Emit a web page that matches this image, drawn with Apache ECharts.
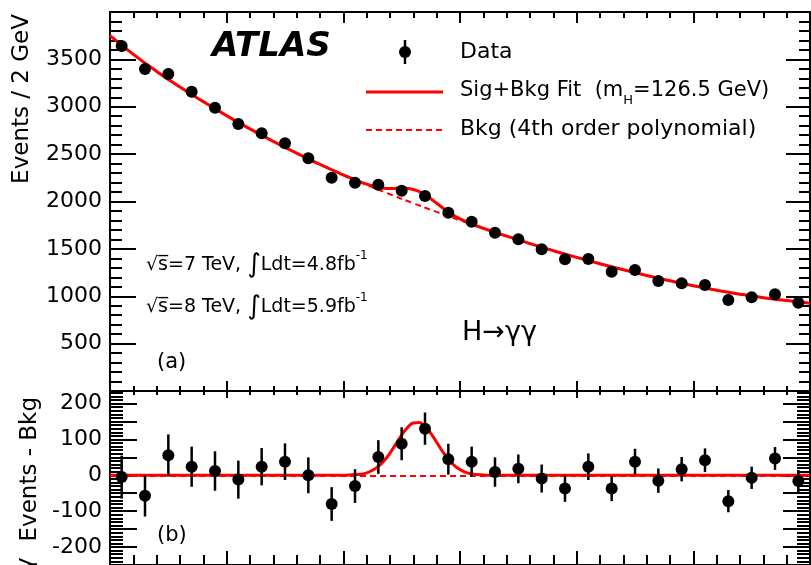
<!DOCTYPE html>
<html>
<head>
<meta charset="utf-8">
<script src="https://cdn.jsdelivr.net/npm/echarts@6.0.0/dist/echarts.min.js"></script>
<style>
html,body{margin:0;padding:0;background:#ffffff;}
#chart{width:811px;height:565px;}
</style>
</head>
<body>
<div id="chart"></div>
<script>
// ---- data ----
const massCenters = [101,103,105,107,109,111,113,115,117,119,121,123,125,127,129,131,133,135,137,139,141,143,145,147,149,151,153,155,157,159];
const eventsData = [3641,3398,3346,3159,2990,2818,2720,2614,2456,2251,2199,2178,2114,2058,1882,1787,1671,1601,1495,1390,1393,1259,1277,1161,1136,1119,960,989,1020,932];
const eventsErr = [60,58,58,56,55,53,52,51,50,47,47,47,46,45,43,42,41,40,39,37,37,35,36,34,34,33,31,31,32,31];
const residuals = [-5,-57,56,24,12,-12,24,38,0,-80,-30,51,88,130,45,38,9,18,-9,-37,24,-37,38,-15,17,42,-72,-7,47,-16];
const fitMass = [100,102,104,106,108,110,112,114,116,118,
  119,119.5,120,120.5,121,121.5,122,122.5,123,123.5,124,124.5,125,125.5,126,126.5,127,127.5,128,128.5,129,129.5,130,130.5,131,131.5,132,132.5,133,
  134,136,138,140,142,144,146,148,150,152,154,156,158,160];
const bkgFit = [3750,3553,3373,3208,3054,2906,2766,2635,2510,2392,
  2335,2308,2280,2253,2227,2201,2176,2150,2125,2100,2076,2052,2028,2005,1981,1958,1935,1912,1890,1867,1845,1823,1801,1780,1758,1737,1716,1696,1675,
  1635,1556,1481,1410,1343,1279,1219,1163,1111,1064,1022,985,954,927];
const sigFit = [0,0,0,0,0,0,0,0,0,0,
  0,0,0,1,2,3,7,14,25,41,62,87,112,133,146,147,137,117,92,67,45,28,16,8,4,2,1,0,0,
  0,0,0,0,0,0,0,0,0,0,0,0,0,0];
const topYLabels = [500,1000,1500,2000,2500,3000,3500];
const bottomYLabels = [-200,-100,0,100,200];

// ---- styling ----
const FONT = '"DejaVu Sans", "Liberation Sans", sans-serif';
const RED = '#ff0000';
const BLACK = '#000000';

const chart = echarts.init(document.getElementById('chart'), null, {renderer: 'canvas'});

function xAxisDef(gridIndex, position, major, minor) {
  return {
    type: 'value', gridIndex: gridIndex, position: position,
    min: 100, max: 160, interval: 10,
    axisLine: {show: true, onZero: false, lineStyle: {color: BLACK, width: 2}},
    axisTick: {show: true, inside: true, length: major, lineStyle: {color: BLACK, width: 2}},
    minorTick: {show: true, splitNumber: 5, length: minor, lineStyle: {color: BLACK, width: 2}},
    axisLabel: {show: false},
    splitLine: {show: false}, minorSplitLine: {show: false}
  };
}
function yAxisDef(gridIndex, position, min, max, interval, major, minor, labels) {
  return {
    type: 'value', gridIndex: gridIndex, position: position,
    min: min, max: max, interval: interval,
    axisLine: {show: true, onZero: false, lineStyle: {color: BLACK, width: 2}},
    axisTick: {show: true, inside: true, length: major, lineStyle: {color: BLACK, width: 2}},
    minorTick: {show: true, splitNumber: 5, length: minor, lineStyle: {color: BLACK, width: 2}},
    splitLine: {show: false}, minorSplitLine: {show: false},
    axisLabel: labels ? {
      show: true, margin: 8, color: BLACK, fontFamily: FONT, fontSize: 22,
      formatter: function (v) { return labels.indexOf(Math.round(v)) >= 0 ? String(Math.round(v)) : ''; }
    } : {show: false}
  };
}
function errorBars(xi, yi, values) {
  return {
    type: 'custom', xAxisIndex: xi, yAxisIndex: yi, z: 5, silent: true, clip: true,
    data: massCenters.map(function (m, i) { return [m, values[i] - eventsErr[i], values[i] + eventsErr[i]]; }),
    encode: {x: 0, y: [1, 2]},
    renderItem: function (params, api) {
      const a = api.coord([api.value(0), api.value(1)]);
      const b = api.coord([api.value(0), api.value(2)]);
      return {type: 'line', shape: {x1: a[0], y1: a[1], x2: b[0], y2: b[1]}, style: {stroke: BLACK, lineWidth: 2.5}};
    }
  };
}
function txt(x, y, text, size, extra) {
  return {
    type: 'text', x: x, y: y, silent: true, z: 100,
    style: Object.assign({
      text: text, fill: BLACK, fontFamily: FONT, fontSize: size,
      align: 'left', textAlign: 'left', verticalAlign: 'middle', textVerticalAlign: 'middle'
    }, extra || {})
  };
}
const annotRich = {
  t: {fontFamily: FONT, fontSize: 19, lineHeight: 22, fill: BLACK},
  i: {fontFamily: FONT, fontSize: 26, lineHeight: 30, fill: BLACK},
  u: {fontFamily: FONT, fontSize: 12, lineHeight: 14, padding: [0, 0, 19, 0], fill: BLACK}
};

const option = {
  animation: false,
  backgroundColor: '#ffffff',
  grid: [
    {left: 110, top: 12, width: 700, height: 379, containLabel: false},
    {left: 110, top: 391, width: 700, height: 179, containLabel: false}
  ],
  xAxis: [
    xAxisDef(0, 'bottom', 10, 5),
    xAxisDef(0, 'top', 11, 6),
    xAxisDef(1, 'bottom', 14, 10),
    xAxisDef(1, 'top', 7, 4)
  ],
  yAxis: [
    yAxisDef(0, 'left', 0, 4000, 500, 26, 12, topYLabels),
    yAxisDef(0, 'right', 0, 4000, 500, 24, 11, null),
    yAxisDef(1, 'left', -250, 235, 50, 27, 13, bottomYLabels),
    yAxisDef(1, 'right', -250, 235, 50, 27, 13, null)
  ],
  series: [
    {
      name: 'Bkg', type: 'line', xAxisIndex: 0, yAxisIndex: 0, z: 2,
      data: fitMass.map(function (m, i) { return [m, bkgFit[i]]; }),
      symbol: 'none', showSymbol: false, smooth: true, silent: true,
      lineStyle: {color: RED, width: 2, type: [6, 4]}
    },
    {
      name: 'Sig+Bkg', type: 'line', xAxisIndex: 0, yAxisIndex: 0, z: 3,
      data: fitMass.map(function (m, i) { return [m, bkgFit[i] + sigFit[i]]; }),
      symbol: 'none', showSymbol: false, smooth: true, silent: true,
      lineStyle: {color: RED, width: 3}
    },
    errorBars(0, 0, eventsData),
    {
      name: 'Data', type: 'scatter', xAxisIndex: 0, yAxisIndex: 0, z: 6, silent: true,
      data: massCenters.map(function (m, i) { return [m, eventsData[i]]; }),
      symbol: 'circle', symbolSize: 12, itemStyle: {color: BLACK, opacity: 1}
    },
    {
      name: 'Signal', type: 'line', xAxisIndex: 2, yAxisIndex: 2, z: 3,
      data: fitMass.map(function (m, i) { return [m, sigFit[i]]; }),
      symbol: 'none', showSymbol: false, smooth: true, silent: true,
      lineStyle: {color: RED, width: 3},
      markLine: {
        silent: true, symbol: ['none', 'none'], z: 2,
        label: {show: false},
        lineStyle: {color: RED, width: 2, type: [6, 4]},
        data: [{yAxis: 0}]
      }
    },
    errorBars(2, 2, residuals),
    {
      name: 'Residual', type: 'scatter', xAxisIndex: 2, yAxisIndex: 2, z: 6, silent: true,
      data: massCenters.map(function (m, i) { return [m, residuals[i]]; }),
      symbol: 'circle', symbolSize: 12, itemStyle: {color: BLACK, opacity: 1}
    }
  ],
  graphic: [
    txt(212, 47, 'ATLAS', 34, {fontWeight: 'bold', fontStyle: 'italic'}),
    {type: 'line', silent: true, z: 100, shape: {x1: 405, y1: 40, x2: 405, y2: 64}, style: {stroke: BLACK, lineWidth: 2.5}},
    {type: 'circle', silent: true, z: 100, shape: {cx: 405, cy: 52, r: 6}, style: {fill: BLACK}},
    txt(460, 52, 'Data', 22),
    {type: 'line', silent: true, z: 100, shape: {x1: 366, y1: 92, x2: 443, y2: 92}, style: {stroke: RED, lineWidth: 3}},
    txt(460, 91, '{m|Sig+Bkg Fit  (m}{s|H}{m|=126.5 GeV)}', 21, {
      rich: {
        m: {fontFamily: FONT, fontSize: 21, lineHeight: 26, fill: BLACK},
        s: {fontFamily: FONT, fontSize: 13, lineHeight: 15, padding: [19, 0, 0, 0], fill: BLACK}
      }
    }),
    {type: 'line', silent: true, z: 100, shape: {x1: 366, y1: 130, x2: 443, y2: 130}, style: {stroke: RED, lineWidth: 2, lineDash: [6, 4]}},
    txt(460, 129, 'Bkg (4th order polynomial)', 22),
    txt(146, 265, '{t|\u221As\u0305=7 TeV, }{i|\u222B}{t|Ldt=4.8fb}{u|-1}', 19, {rich: annotRich}),
    txt(146, 307, '{t|\u221As\u0305=8 TeV, }{i|\u222B}{t|Ldt=5.9fb}{u|-1}', 19, {rich: annotRich}),
    txt(462, 333, 'H\u2192\u03B3\u03B3', 27),
    txt(157, 363, '(a)', 21),
    txt(157, 536, '(b)', 21),
    Object.assign(txt(22, 14, 'Events / 2 GeV', 23, {align: 'right', textAlign: 'right'}), {rotation: Math.PI / 2}),
    Object.assign(txt(30, 397, 'Events - Bkg', 23, {align: 'right', textAlign: 'right'}), {rotation: Math.PI / 2}),
    Object.assign(txt(26, 571, '\u03B3', 23, {align: 'left', textAlign: 'left'}), {rotation: Math.PI / 2})
  ]
};
chart.setOption(option);
</script>
</body>
</html>
